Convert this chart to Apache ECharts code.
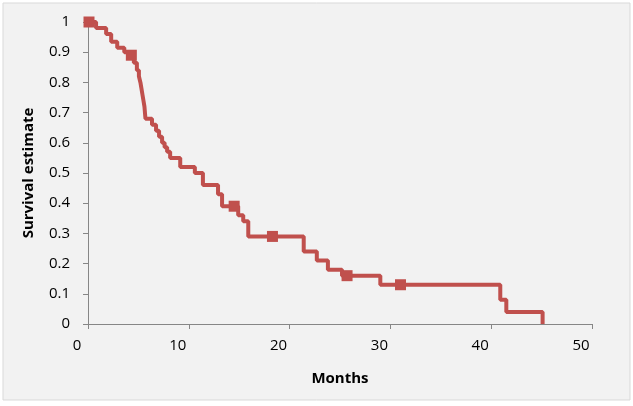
<!DOCTYPE html>
<html><head><meta charset="utf-8">
<script src="https://cdn.jsdelivr.net/npm/echarts@6/dist/echarts.min.js"></script>
<style>html,body{margin:0;padding:0;background:#fff}#c{width:633px;height:406px}</style>
</head><body><div id="c"></div>
<script>
// Kaplan-Meier step points: time (months) at which survival drops, and new survival value
var stepTimes = [0, 0.8, 1.8, 2.3, 2.9, 3.6, 4.0, 4.55, 4.85, 5.05, 5.2, 5.3, 5.4, 5.5, 5.6, 5.7, 6.35, 6.75, 7.05, 7.35, 7.6, 7.85, 8.15, 9.15, 10.6, 11.4, 12.9, 13.3, 14.9, 15.4, 15.9, 21.4, 22.7, 23.8, 25.2, 29.0, 40.9, 41.5, 45.1];
var stepSurv  = [1, 0.98, 0.96, 0.935, 0.915, 0.90, 0.89, 0.865, 0.84, 0.82, 0.80, 0.78, 0.76, 0.74, 0.72, 0.68, 0.66, 0.64, 0.62, 0.60, 0.585, 0.57, 0.55, 0.52, 0.50, 0.46, 0.43, 0.39, 0.36, 0.34, 0.29, 0.24, 0.21, 0.18, 0.16, 0.13, 0.08, 0.04, 0];
// censored observations
var censorTimes = [0.1, 4.3, 14.5, 18.3, 25.7, 31.0];
var censorSurv  = [1, 0.89, 0.39, 0.29, 0.16, 0.13];
var xTicks = [0, 10, 20, 30, 40, 50];
var yTicks = [0, 0.1, 0.2, 0.3, 0.4, 0.5, 0.6, 0.7, 0.8, 0.9, 1];

var red = '#c0504d';
var font = 'Open Sans';
var chart = echarts.init(document.getElementById('c'), null, {renderer:'canvas'});
chart.setOption({
  animation:false,
  graphic:[{type:'rect', z:-10, shape:{x:3,y:3,width:627,height:397}, style:{fill:'#f2f2f2', stroke:'#d9d9d9', lineWidth:1}}],
  grid:{left:88, right:41, top:22, bottom:82},
  xAxis:{type:'value', min:0, max:50, interval:10,
    name:'Months', nameLocation:'middle', nameGap:47,
    nameTextStyle:{fontFamily:font, fontWeight:'bold', fontSize:15, color:'#000'},
    axisLine:{lineStyle:{color:'#868686', width:1}},
    axisTick:{show:true, length:5, lineStyle:{color:'#868686'}},
    axisLabel:{fontFamily:font, fontSize:15, color:'#000', margin:14, padding:[0,22,0,0],
      formatter:function(v){return xTicks.indexOf(v) >= 0 ? String(v) : '';}},
    splitLine:{show:false}},
  yAxis:{type:'value', min:0, max:1, interval:0.1,
    name:'Survival estimate', nameLocation:'middle', nameGap:52,
    nameTextStyle:{fontFamily:font, fontWeight:'bold', fontSize:15, color:'#000'},
    axisLine:{show:true, lineStyle:{color:'#868686', width:1}},
    axisTick:{show:true, length:5, lineStyle:{color:'#868686'}},
    axisLabel:{fontFamily:font, fontSize:15, color:'#000', margin:18,
      formatter:function(v){var r=Math.round(v*10)/10; return yTicks.indexOf(r) >= 0 ? String(r) : '';}},
    splitLine:{show:false}},
  series:[
    {type:'line', step:'end', showSymbol:false, symbol:'none',
     data:stepTimes.map(function(t,i){return [t, stepSurv[i]];}),
     lineStyle:{color:red, width:4}, z:2},
    {type:'scatter', symbol:'rect', symbolSize:11,
     data:censorTimes.map(function(t,i){return [t, censorSurv[i]];}),
     itemStyle:{color:red, opacity:1}, z:3}
  ]
});
</script></body></html>
